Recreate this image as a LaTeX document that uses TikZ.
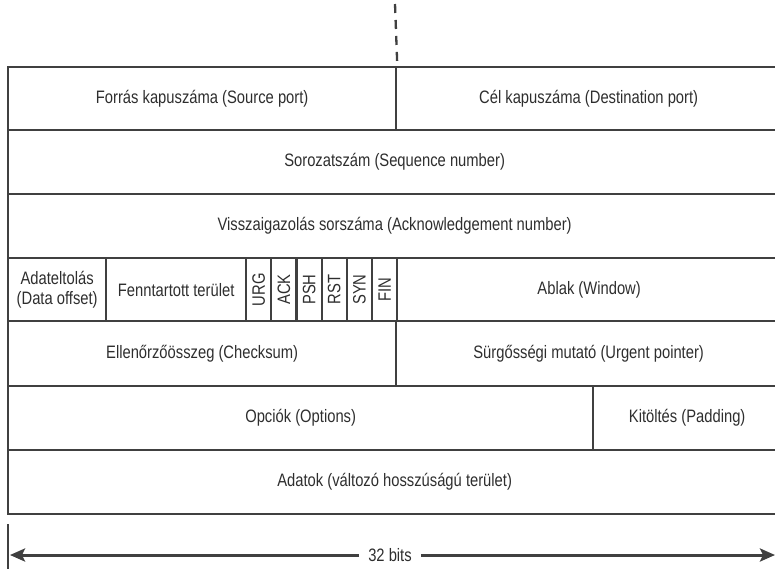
\documentclass[tikz,border=0pt]{standalone}
\usepackage{fontspec}
\usepackage{graphicx}
\setmainfont{Liberation Sans}[FakeStretch=0.82]
\usetikzlibrary{arrows.meta}
\definecolor{linec}{HTML}{404040}
\definecolor{textc}{HTML}{2E2E2E}
\begin{document}
\begin{tikzpicture}[x=1pt,y=-1pt,
  cell/.style={draw=linec, line width=2.3pt, inner sep=0pt, anchor=north west,
    align=center, text=textc, font=\fontsize{18}{21}\selectfont},
  flagc/.style={cell, minimum width=25.17pt, minimum height=63pt},
  conn/.style={draw=linec, line width=2.3pt},
  dimarrow/.style={draw=linec, line width=3pt, -{Stealth[length=15pt,width=13pt,inset=3pt]}}]
\useasboundingbox (0,0) rectangle (775,568);
% row 1
\node[cell, minimum width=388pt, minimum height=63pt] (src) at (7,66) {Forrás kapuszáma (Source port)};
\node[cell, minimum width=385pt, minimum height=63pt] (dst) at (395,66) {Cél kapuszáma (Destination port)};
% row 2
\node[cell, minimum width=773pt, minimum height=64pt] (seq) at (7,129) {Sorozatszám (Sequence number)};
% row 3
\node[cell, minimum width=773pt, minimum height=64pt] (ack) at (7,193) {Visszaigazolás sorszáma (Acknowledgement number)};
% row 4
\node[cell, minimum width=98pt, minimum height=63pt] (offs) at (7,257) {Adateltolás\\[-1pt](Data offset)};
\node[cell, minimum width=140pt, minimum height=63pt] (resv) at (105,257) {Fenntartott terület};
\node[flagc] (urg) at (245,257) {\rotatebox{90}{URG}};
\node[flagc] (ackf) at (270.17,257) {\rotatebox{90}{ACK}};
\node[flagc] (psh) at (295.34,257) {\rotatebox{90}{PSH}};
\node[flagc] (rst) at (320.51,257) {\rotatebox{90}{RST}};
\node[flagc] (syn) at (345.68,257) {\rotatebox{90}{SYN}};
\node[flagc] (fin) at (370.85,257) {\rotatebox{90}{FIN}};
\node[cell, minimum width=384pt, minimum height=63pt] (win) at (396,257) {Ablak (Window)};
% row 5
\node[cell, minimum width=388pt, minimum height=65pt] (chk) at (7,320) {Ellenőrzőösszeg (Checksum)};
\node[cell, minimum width=385pt, minimum height=65pt] (urgp) at (395,320) {Sürgősségi mutató (Urgent pointer)};
% row 6
\node[cell, minimum width=585pt, minimum height=64pt] (opt) at (7,385) {Opciók (Options)};
\node[cell, minimum width=188pt, minimum height=64pt] (pad) at (592,385) {Kitöltés (Padding)};
% row 7
\node[cell, minimum width=773pt, minimum height=64pt] (data) at (7,449) {Adatok (változó hosszúságú terület)};
% dashed line above
\coordinate (dtop) at (395,4);
\draw[conn, dash pattern=on 9pt off 7pt] (dtop) -- (src.north east);
% bottom dimension
\coordinate (tickT) at (8,524);
\coordinate (tickB) at (8,570);
\draw[conn] (tickT) -- (tickB);
\node[text=textc, font=\fontsize{18}{21}\selectfont, inner xsep=9pt] (bits) at (390,555) {32 bits};
\coordinate (aL) at (10,555);
\coordinate (aR) at (775,555);
\draw[dimarrow] (bits.west) -- (aL);
\draw[dimarrow] (bits.east) -- (aR);
\end{tikzpicture}
\end{document}
